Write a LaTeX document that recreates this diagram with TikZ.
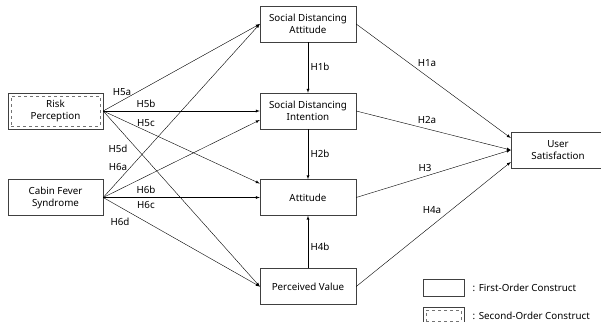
\documentclass[tikz,border=0pt]{standalone}
\usepackage{fontspec}
\setmainfont{Noto Sans}
\usetikzlibrary{positioning}

\begin{document}
\begin{tikzpicture}[x=1pt,y=-1pt,>=latex,font=\fontsize{9.8}{12}\selectfont,
    box/.style={draw=black!75,rectangle,minimum width=96pt,minimum height=36pt,align=center}]
    \useasboundingbox (0,0) rectangle (601,321);

    \node [box](a)at(308,24){Social Distancing\\Attitude};
    \node [box](b)at(308,111){Social Distancing\\Intention};
    \node [box](c)at(308,197.5){Attitude};
    \node [box](d)at(308,286.5){Perceived Value};
    \node [box,minimum width=95pt](e)at(55.5,111){Risk\\Perception};
    \node [draw=black!55,dashed,minimum width=89pt,minimum height=30pt](f)at(e){};
    \node [box,minimum width=95pt](g)at(55.5,197.5){Cabin Fever\\Syndrome};
    \node [box,minimum width=94pt](h)at(558,150){User\\Satisfaction};

    \node (i)at(122,92){H5a};
    \node (j)at(146,104){H5b};
    \node (k)at(146,123){H5c};
    \node (l)at(118,149){H5d};
    \node (m)at(118,167){H6a};
    \node (n)at(146,190){H6b};
    \node (o)at(146,205){H6c};
    \node (p)at(120,222){H6d};
    \node (q)at(320,67){H1b};
    \node (r)at(320,154){H2b};
    \node (s)at(320,247){H4b};
    \node (t)at(427,63){H1a};
    \node (u)at(427,120){H2a};
    \node (v)at(425,168){H3};
    \node (w)at(432,210){H4a};

    \node [draw=black!75,minimum width=41pt,minimum height=17pt](x)at(443.5,287.5){};
    \node [right=5pt of x](y){: First-Order Construct};
    \node [draw=black!75,minimum width=41pt,minimum height=17pt](z)at(443.5,315.5){};
    \node [draw=black!55,dashed,minimum width=35pt,minimum height=11pt]at(z){};
    \node [right=5pt of z](zz){: Second-Order Construct};

    \draw [->](e.east)--(a.west);
    \draw [->](e.east)--(b.west);
    \draw [->](e.east)--([yshift=14pt]c.west);
    \draw [->](e.east)--(d.west);
    \draw [->](g.east)--(a.west);
    \draw [->](g.east)--([yshift=-9pt]b.west);
    \draw [->](g.east)--(c.west);
    \draw [->](g.east)--(d.west);
    \draw [->](a)--(b);
    \draw [->](b)--(c);
    \draw [->](d)--(c);
    \draw [->](a.east)--([yshift=12pt]h.west);
    \draw [->](b.east)--(h.west);
    \draw [->](c.east)--(h.west);
    \draw [->](d.east)--([yshift=-12pt]h.west);
\end{tikzpicture}
\end{document}
